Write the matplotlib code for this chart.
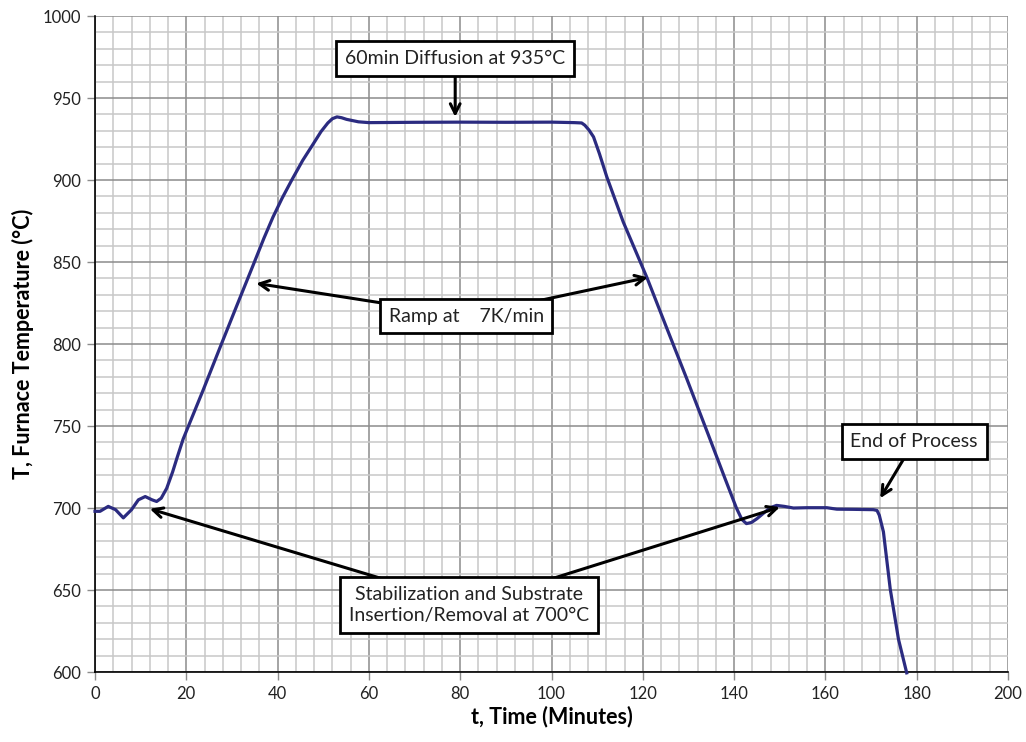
import matplotlib.pyplot as plt
from matplotlib.ticker import MultipleLocator

# ---- data (minutes, deg C)
t_min = [0, 1.1, 2.9, 4.5, 6.2, 8, 9.5, 11, 12.5, 13.5, 14.5, 15.7, 17, 17.9,
         19.3, 21.5, 23.7, 27.4, 31.0, 34.7, 37.0, 39.0, 41.0, 43.1, 45.5,
         47.8, 49.5, 51.0, 52.0, 53.0, 54.0, 55.1, 57.7, 60, 70, 80, 90, 100,
         105, 106.6, 107.3, 108.2, 109.2, 110.5, 112.1, 115.7, 120.9, 125.2,
         129.6, 134.3, 138, 140.5, 141.7, 142.7, 143.8, 145, 146.5, 148, 149.3,
         151, 153, 156, 160.3, 162.5, 166, 170.5, 171.3, 171.8, 172.7, 174.2,
         176, 177.8]
temp_c = [698, 698, 701, 699, 694, 699, 705, 707, 705, 704, 706, 712, 722, 730,
          742, 757, 772, 798, 823, 848.5, 864.5, 877.5, 889, 900, 912, 922,
          929.5, 934.8, 937.4, 938.5, 938, 937, 935.5, 935, 935.2, 935.3, 935.2,
          935.3, 935, 934.8, 933.4, 930.5, 926.3, 916, 902, 874.5, 840.5, 810,
          779, 745, 718, 700, 693, 690.5, 691.2, 693.5, 697, 700.3, 701.6, 701,
          700, 700.2, 700.2, 699.3, 699.2, 699, 698.5, 695.6, 685.5, 650.5, 620,
          599.5]

# annotations: (text, box centre, [arrow tips])
notes = [
    ("60min Diffusion at 935°C", (78.9, 974), [(78.9, 938.5)]),
    ("Ramp at    7K/min", (81.3, 817), [(35.3, 837), (121.1, 840.6)]),
    ("Stabilization and Substrate\nInsertion/Removal at 700°C", (81.9, 641),
     [(12.0, 699.5), (150.0, 700.5)]),
    ("End of Process", (179.4, 740.5), [(172.0, 706)]),
]

FONT = "Lato"
LINE_COLOR = "#2b2b80"

fig = plt.figure(figsize=(10.26, 7.42), dpi=100)
ax = fig.add_axes([0.0926, 0.0943, 0.8899, 0.8841])

ax.set_xlim(0, 200)
ax.set_ylim(600, 1000)
ax.xaxis.set_major_locator(MultipleLocator(20))
ax.xaxis.set_minor_locator(MultipleLocator(4))
ax.yaxis.set_major_locator(MultipleLocator(50))
ax.yaxis.set_minor_locator(MultipleLocator(10))

ax.grid(which="minor", color="#c8c8c8", lw=1.1)
ax.grid(which="major", color="#8c8c8c", lw=1.1)
ax.set_axisbelow(True)

for s in ("top", "right"):
    ax.spines[s].set_visible(False)
for s in ("left", "bottom"):
    ax.spines[s].set_color("black")
    ax.spines[s].set_linewidth(1.2)

ax.tick_params(which="major", direction="out", length=6, width=1.0,
               color="#8c8c8c", labelsize=12, pad=4)
ax.tick_params(which="minor", length=0)
for lab in ax.get_xticklabels() + ax.get_yticklabels():
    lab.set_fontfamily(FONT)
    lab.set_color("#222222")

ax.plot(t_min, temp_c, color=LINE_COLOR, lw=2.3, solid_joinstyle="round",
        clip_on=False, zorder=3)

ax.set_xlabel("t, Time (Minutes)", fontsize=15.5, fontweight="bold",
              family=FONT, labelpad=3)
ax.set_ylabel("T, Furnace Temperature (°C)", fontsize=15.5, fontweight="bold",
              family=FONT, labelpad=6)

box = dict(boxstyle="square,pad=0.45", fc="white", ec="black", lw=2.0)
for text, (bx, by), tips in notes:
    for tx, ty in tips:
        ax.annotate("", xy=(tx, ty), xytext=(bx, by),
                    arrowprops=dict(arrowstyle="->,head_length=0.7,head_width=0.35",
                                    color="black", lw=2.2, shrinkA=0, shrinkB=0),
                    zorder=4)
    ax.text(bx, by, text, ha="center", va="center", fontsize=14, family=FONT,
            color="#222222", bbox=box, zorder=5, linespacing=1.3)

fig.savefig("out.png", dpi=100)
